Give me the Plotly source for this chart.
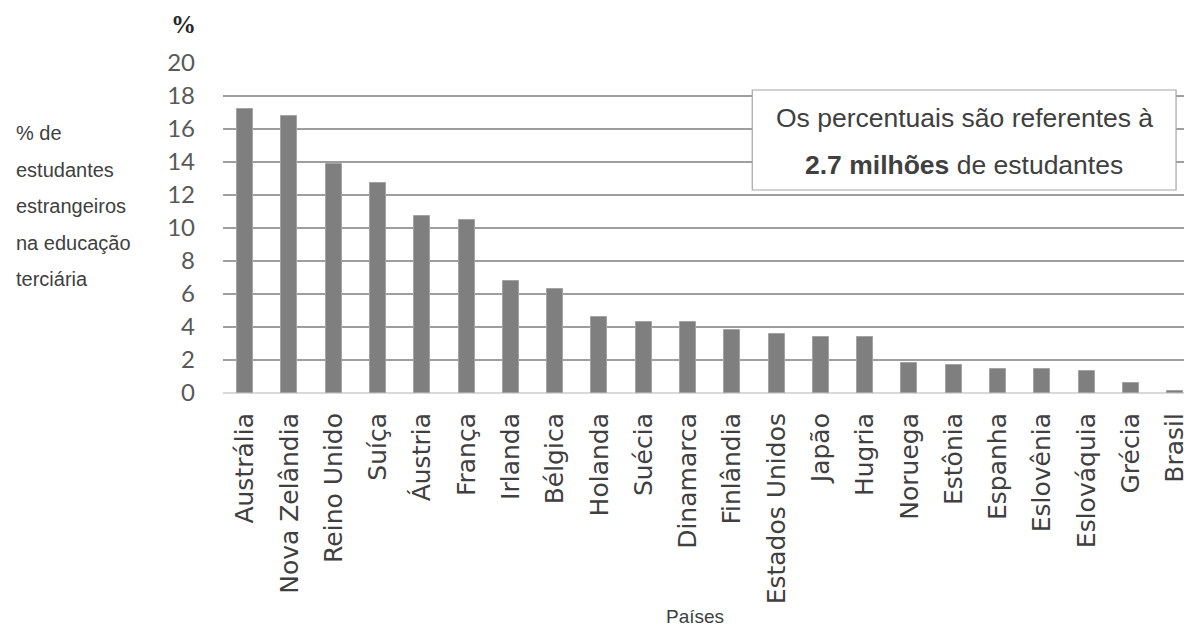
import plotly.graph_objects as go

# Foreign students share in tertiary education, by country (%)
countries = [
    "Austrália", "Nova Zelândia", "Reino Unido", "Suíça", "Áustria", "França",
    "Irlanda", "Bélgica", "Holanda", "Suécia", "Dinamarca", "Finlândia",
    "Estados Unidos", "Japão", "Hugria", "Noruega", "Estônia", "Espanha",
    "Eslovênia", "Eslováquia", "Grécia", "Brasil",
]
shares = [
    17.2, 16.8, 13.9, 12.7, 10.7, 10.5,
    6.8, 6.3, 4.6, 4.3, 4.3, 3.8,
    3.6, 3.4, 3.4, 1.8, 1.7, 1.45,
    1.45, 1.35, 0.6, 0.1,
]
y_ticks = [0, 2, 4, 6, 8, 10, 12, 14, 16, 18, 20]
side_label = ["% de", "estudantes", "estrangeiros", "na educação", "terciária"]

W, H = 1189, 626
ML, MR, MT, MB = 223, 0, 63, 233
plot_w = W - ML - MR
plot_h = H - MT - MB


def px_x(px):
    return (px - ML) / plot_w


def px_y(py):
    return (H - MB - py) / plot_h


fig = go.Figure(
    go.Bar(
        x=countries,
        y=shares,
        width=0.36,
        marker=dict(color="#7f7f7f", line=dict(color="#a3a3a3", width=1)),
    )
)

fig.update_layout(
    width=W,
    height=H,
    margin=dict(l=ML, r=MR, t=MT, b=MB),
    paper_bgcolor="white",
    plot_bgcolor="white",
    showlegend=False,
    bargap=0,
)

fig.update_xaxes(
    range=[-0.5, 21.2],
    tickangle=-90,
    tickfont=dict(family="DejaVu Sans", size=25, color="#404040"),
    showgrid=False,
    showline=False,
    ticks="",
    ticklabelstandoff=14,
)

fig.update_yaxes(
    range=[0, 20],
    tickvals=y_ticks,
    ticktext=[str(v) for v in y_ticks],
    tickfont=dict(family="Lato", size=24, color="#595959"),
    showgrid=True,
    gridcolor="#9e9e9e",
    gridwidth=1.5,
    zeroline=True,
    zerolinecolor="#d9d9d9",
    zerolinewidth=2,
    showline=False,
    ticks="",
    ticklabelstandoff=27,
)

# Note box in the upper right of the plot
fig.add_shape(
    type="rect", xref="paper", yref="paper",
    x0=px_x(755), x1=px_x(1181), y0=px_y(190), y1=px_y(90),
    fillcolor="white", line=dict(color="#a6a6a6", width=1.2), layer="above",
)
note_font = dict(family="Liberation Sans, Arial", size=26.5, color="#404040")
fig.add_annotation(
    xref="paper", yref="paper", x=px_x(968), y=px_y(118),
    text="Os percentuais são referentes à", showarrow=False,
    font=note_font, xanchor="center", yanchor="middle",
)
fig.add_annotation(
    xref="paper", yref="paper", x=px_x(968), y=px_y(165),
    text="<b>2.7 milhões</b> de estudantes", showarrow=False,
    font=note_font, xanchor="center", yanchor="middle",
)

# Unit marker above the y axis
fig.add_annotation(
    xref="paper", yref="paper", x=px_x(183), y=px_y(25),
    text="<b>%</b>", showarrow=False,
    font=dict(family="Liberation Serif", size=25, color="#262626"),
    xanchor="center", yanchor="middle",
)

# Side description of the measure
for i, line in enumerate(side_label):
    fig.add_annotation(
        xref="paper", yref="paper", x=px_x(13), y=px_y(133 + i * 36.5),
        text=line, showarrow=False,
        font=dict(family="Liberation Sans, Arial", size=20, color="#404040"),
        xanchor="left", yanchor="middle",
    )

# X axis title
fig.add_annotation(
    xref="paper", yref="paper", x=px_x(697), y=px_y(616),
    text="Países", showarrow=False,
    font=dict(family="Liberation Sans, Arial", size=19, color="#404040"),
    xanchor="center", yanchor="middle",
)

fig.write_html("out.html")
